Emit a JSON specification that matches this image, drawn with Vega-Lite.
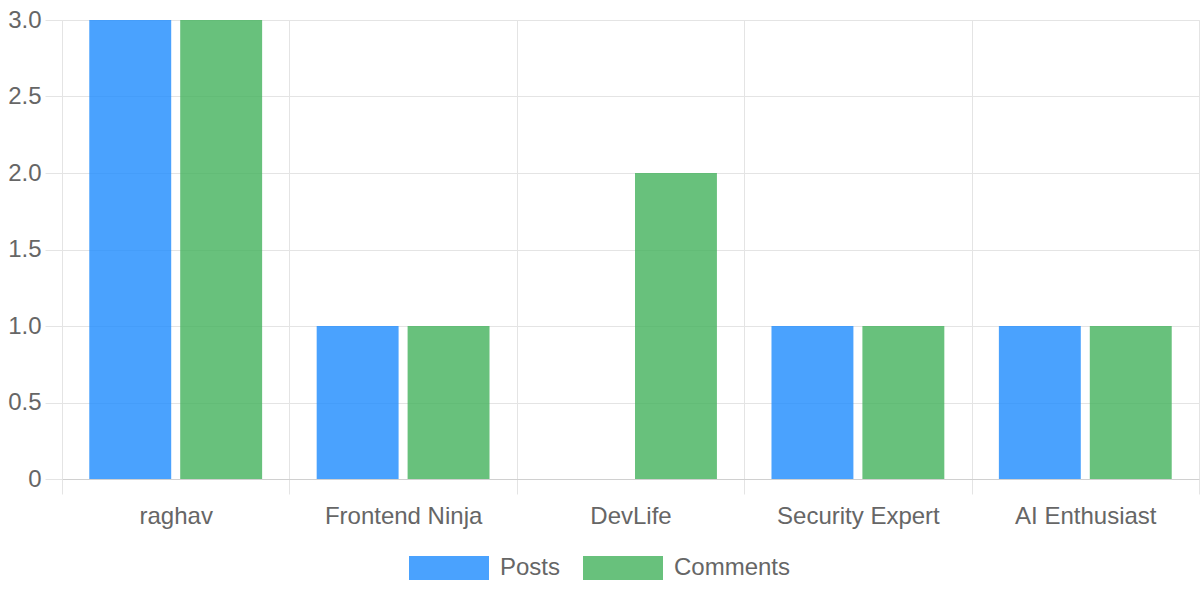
{
  "$schema": "https://vega.github.io/schema/vega-lite/v6.json",
  "autosize": "none",
  "width": 1137,
  "height": 459,
  "padding": {"left": 62, "top": 20, "right": 1, "bottom": 121},
  "background": "white",
  "config": {
    "view": {"stroke": "#e4e4e4", "strokeWidth": 1},
    "font": "Liberation Sans",
    "axis": {"labelFont": "Liberation Sans", "labelColor": "#666666", "labelFontSize": 24, "gridColor": "#e4e4e4", "tickColor": "#e4e4e4", "domainColor": "#d0d0d0"},
    "legend": {"labelFont": "Liberation Sans", "labelColor": "#666666", "labelFontSize": 24}
  },
  "data": {
    "values": [
      {"user": "raghav", "metric": "Posts", "count": 3},
      {"user": "raghav", "metric": "Comments", "count": 3},
      {"user": "Frontend Ninja", "metric": "Posts", "count": 1},
      {"user": "Frontend Ninja", "metric": "Comments", "count": 1},
      {"user": "DevLife", "metric": "Posts", "count": 0},
      {"user": "DevLife", "metric": "Comments", "count": 2},
      {"user": "Security Expert", "metric": "Posts", "count": 1},
      {"user": "Security Expert", "metric": "Comments", "count": 1},
      {"user": "AI Enthusiast", "metric": "Posts", "count": 1},
      {"user": "AI Enthusiast", "metric": "Comments", "count": 1}
    ]
  },
  "mark": {"type": "bar", "opacity": 0.8},
  "encoding": {
    "x": {
      "field": "user", "type": "nominal", "sort": null, "title": null,
      "scale": {"paddingInner": 0, "paddingOuter": 0},
      "axis": {"labelAngle": 0, "grid": true, "bandPosition": 0, "ticks": true, "tickBand": "extent", "tickSize": 15, "labelPadding": 10, "domain": true, "labelBaseline": "top"}
    },
    "xOffset": {
      "field": "metric", "type": "nominal", "sort": ["Posts", "Comments"],
      "scale": {"paddingInner": 0.099, "paddingOuter": 0.3}
    },
    "y": {
      "field": "count", "type": "quantitative", "title": null,
      "scale": {"domain": [0, 3], "nice": false},
      "axis": {"values": [0, 0.5, 1, 1.5, 2, 2.5, 3], "labelExpr": "datum.value == 0 ? '0' : format(datum.value, '.1f')", "tickSize": 17, "labelPadding": 4, "domain": false, "grid": true}
    },
    "color": {
      "field": "metric", "type": "nominal", "sort": ["Posts", "Comments"],
      "scale": {"domain": ["Posts", "Comments"], "range": ["#1D8BFE", "#42B25B"]},
      "legend": {
        "title": null, "orient": "none", "legendX": 347, "legendY": 508, "direction": "horizontal", "padding": 0,
        "symbolType": "M-1,-0.3H1V0.3H-1Z", "symbolSize": 6400, "symbolStrokeWidth": 0, "symbolOpacity": 0.8,
        "columnPadding": 22, "labelOffset": 11
      }
    }
  }
}
